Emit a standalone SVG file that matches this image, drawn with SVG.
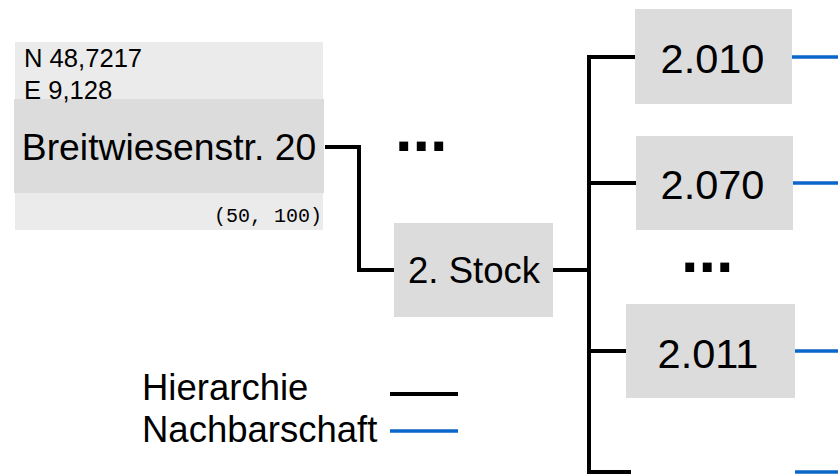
<svg xmlns="http://www.w3.org/2000/svg" width="838" height="474" viewBox="0 0 838 474">
  <defs>
    <style>
      .box { fill: #dcdcdc; }
      .outer { fill: #ebebeb; }
      .lbl { font-family: "Liberation Sans", Arial, sans-serif; fill: #000; }
      .big { font-size: 41.5px; text-anchor: middle; }
      .mid { font-size: 36.5px; }
      .small { font-size: 25.6px; }
      .mono { font-family: "Liberation Mono", "DejaVu Sans Mono", monospace; font-size: 20px; fill: #000; text-anchor: end; }
      .dots { font-family: "Liberation Sans", Arial, sans-serif; font-weight: bold; font-size: 63px; fill: #000; }
      .hier { stroke: #000; stroke-width: 4; fill: none; stroke-linejoin: miter; }
      .nach { stroke: #0a66c8; stroke-width: 3.5; fill: none; }
    </style>
  </defs>
  <rect width="838" height="474" fill="#fff"/>

  <!-- connectors -->
  <g id="connectors">
    <path class="hier" d="M325,147 H359 V270 H394"/>
    <path class="hier" d="M547,270 H589"/>
    <path class="hier" d="M636,57 H589 V472 H631"/>
    <path class="hier" d="M589,183 H636"/>
    <path class="hier" d="M589,351 H626"/>
    <path class="nach" d="M792,57 H838"/>
    <path class="nach" d="M788,183 H838"/>
    <path class="nach" d="M795,351 H838"/>
    <path class="nach" d="M795,472 H838"/>
  </g>

  <!-- building with coordinates -->
  <g id="building">
    <rect class="outer" x="15" y="42" width="308" height="188"/>
    <rect class="box" x="14" y="99" width="310" height="94"/>
    <text class="lbl small" x="24" y="67">N 48,7217</text>
    <text class="lbl small" x="24" y="99">E 9,128</text>
    <text class="lbl" x="169" y="160" font-size="37.3" text-anchor="middle">Breitwiesenstr. 20</text>
    <text class="mono" x="322" y="222">(50, 100)</text>
  </g>

  <g id="more-floors">
    <text class="dots" x="395" y="151">...</text>
  </g>

  <g id="floor-2">
    <rect class="box" x="394" y="223" width="159" height="94"/>
    <text class="lbl mid" x="474" y="283" text-anchor="middle">2. Stock</text>
  </g>

  <g id="room-2010">
    <rect class="box" x="635" y="9" width="157" height="95"/>
    <text class="lbl big" x="712.5" y="73">2.010</text>
  </g>

  <g id="room-2070">
    <rect class="box" x="636" y="136" width="157" height="94"/>
    <text class="lbl big" x="712.5" y="198.5">2.070</text>
  </g>

  <g id="more-rooms">
    <text class="dots" x="681" y="272">...</text>
  </g>

  <g id="room-2011">
    <rect class="box" x="626" y="304" width="169" height="94"/>
    <text class="lbl big" x="708" y="367.5">2.011</text>
  </g>

  <!-- legend -->
  <g id="legend">
    <text class="lbl mid" x="142" y="400">Hierarchie</text>
    <text class="lbl mid" x="142" y="442">Nachbarschaft</text>
    <path class="hier" d="M390,394 H458"/>
    <path class="nach" d="M390,431 H458"/>
  </g>
</svg>
